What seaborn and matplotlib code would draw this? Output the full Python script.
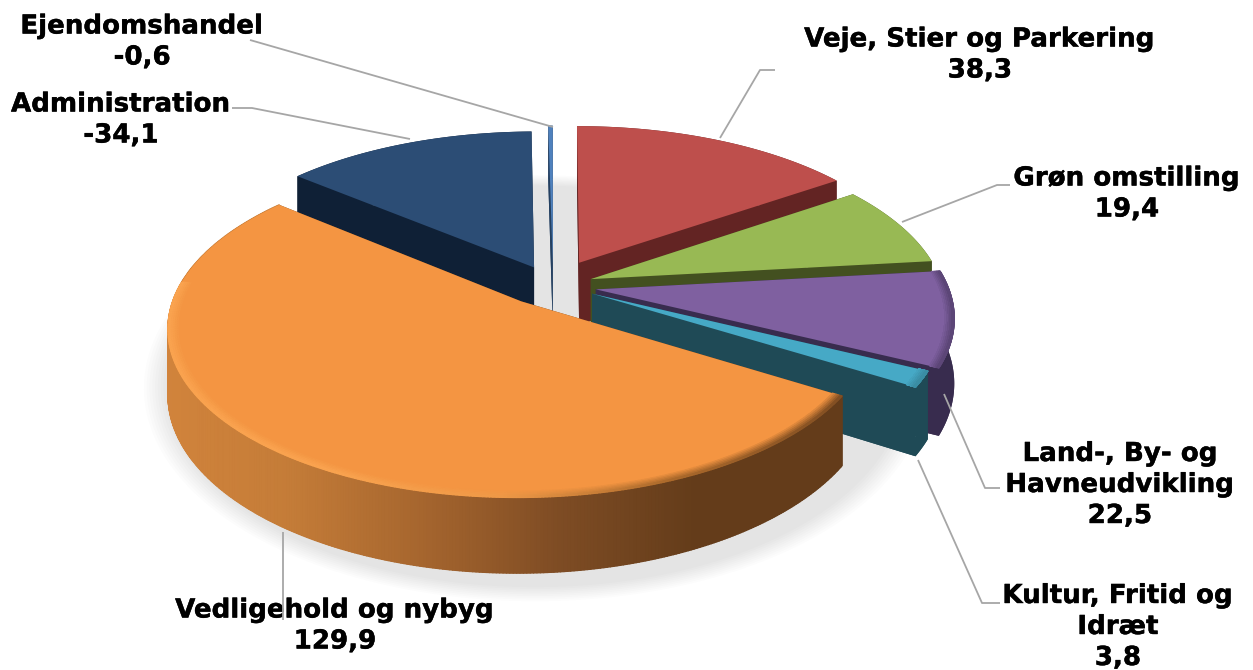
import numpy as np
import matplotlib
matplotlib.use("Agg")
import matplotlib.pyplot as plt
import matplotlib.patheffects as pe
import seaborn as sns
from matplotlib.collections import PolyCollection
from matplotlib.colors import LinearSegmentedColormap, to_rgb

names = ["Veje, Stier og Parkering", "Grøn omstilling", "Land-, By- og\nHavneudvikling",
         "Kultur, Fritid og\nIdræt", "Vedligehold og nybyg", "Administration", "Ejendomshandel"]
values = [38.3, 19.4, 22.5, 3.8, 129.9, -34.1, -0.6]
top_colors = ["#BE4F4C", "#98B954", "#7F60A0", "#46A9C6", "#F49542", "#2C4D75", "#4F81BD"]
side_colors = ["#632423", "#435020", "#382C4E", "#1F4A56", "#6A401C", "#0F2036", "#244061"]
nudge_x = [2, -3, 0, 0, -19, -12, -8]
nudge_y = [-2, 4, 4, 2, 3, 3, 1]
radius = [0.985, 1.0, 1.0, 0.975, 0.975, 0.98, 1.0]

# scene: flat pie seen in perspective
CX, CY = 561, 282
RX, RY = 352, 165
EX, EY = 0.10, 0.12
PERSP = 0.156
DEPTH = 63

sizes = np.abs(values)
ends = np.cumsum(sizes) / sizes.sum() * 2 * np.pi
starts = np.r_[0, ends[:-1]]
mids = (starts + ends) / 2


def project(i, theta, r, z=0.0):
    x = radius[i] * r * np.sin(theta) + EX * np.sin(mids[i])
    y = radius[i] * r * np.cos(theta) + EY * np.cos(mids[i])
    w = 1 + PERSP * y
    return CX + nudge_x[i] + RX * x / w, CY + nudge_y[i] - RY * y / w + DEPTH * z / w


def mix(a, b, t):
    a, b = np.array(to_rgb(a)), np.array(to_rgb(b))
    return a + (b - a) * t


def arc_band(ax, i, r0, z0, r1, z1, colors, zorder, front_only=False):
    theta = np.linspace(starts[i], ends[i], 400)
    if front_only:
        theta = theta[np.cos(theta) < 0.12]
    x0, y0 = project(i, theta, r0, z0)
    x1, y1 = project(i, theta, r1, z1)
    polys = [[(x0[k], y0[k]), (x0[k + 1], y0[k + 1]), (x1[k + 1], y1[k + 1]), (x1[k], y1[k])]
             for k in range(len(theta) - 1)]
    ax.add_collection(PolyCollection(polys, facecolors=colors((x0[:-1] + x0[1:]) / 2),
                                     edgecolors="face", linewidths=0.9, zorder=zorder))


sns.set_theme(style="white")
plt.rcParams["font.family"] = ["DejaVu Sans"]

fig = plt.figure(figsize=(12.53, 6.70), dpi=100)
ax = fig.add_axes([0, 0, 1, 1])
ax.set_xlim(0, 1253)
ax.set_ylim(670, 0)
ax.axis("off")

# soft shadow under the whole pie
full = np.linspace(0, 2 * np.pi, 240)
for grow in np.linspace(0.99, 1.05, 9):
    w = 1 + PERSP * np.cos(full)
    ax.fill(535 + grow * 368 * np.sin(full) / w,
            355 - grow * 198 * np.cos(full) / w,
            color="black", alpha=0.012, lw=0, zorder=1)

# back to front
order = [5, 6, 0, 1, 2, 3, 4]
orange_side = LinearSegmentedColormap.from_list(
    "orange_side", ["#D2843C", "#C47C38", "#A5652E", "#7E4C24", "#643C1A"])
for z, i in enumerate(order):
    base = 2 + z * 2
    theta = np.linspace(starts[i], ends[i], 160)
    ax_x, ax_y = project(i, theta, 1.0, 1.0)
    ox, oy = project(i, 0.0, 0.0, 1.0)
    tx, ty = project(i, 0.0, 0.0, 0.0)
    sx, sy = project(i, theta, 1.0, 0.0)
    # bottom face + the two cut faces
    ax.fill(np.r_[ox, ax_x], np.r_[oy, ax_y], color=side_colors[i], lw=0, zorder=base)
    ax.fill([tx, sx[0], ax_x[0], ox], [ty, sy[0], ax_y[0], oy], color=side_colors[i], lw=0, zorder=base)
    ax.fill([tx, sx[-1], ax_x[-1], ox], [ty, sy[-1], ax_y[-1], oy], color=side_colors[i], lw=0, zorder=base)
    if i == 4:
        arc_band(ax, i, 1.0, 0.0, 1.0, 1.0,
                 lambda px: orange_side(np.clip((px - 155) / 540, 0, 1)), base)
    else:
        ax.fill(np.r_[sx, ax_x[::-1]], np.r_[sy, ax_y[::-1]], color=side_colors[i], lw=0, zorder=base)
    # top face
    ax.fill(np.r_[tx, sx], np.r_[ty, sy], color=top_colors[i], lw=0, zorder=base + 1)

# rounded rim on the front slices, blended in a few steps
rim_orange = LinearSegmentedColormap.from_list(
    "rim_orange", ["#FBA652", "#FBA652", "#EE9A48", "#9C6026", "#6A401C"])
steps = np.linspace(0, 1, 6)
for s, t in enumerate(steps[:-1]):
    top = np.array(to_rgb(top_colors[4]))
    arc_band(ax, 4, 0.972 + 0.028 * t, 0.0, 0.972 + 0.028 * steps[s + 1], 0.0,
             lambda px, t=t: np.c_[top + (rim_orange(np.clip((px - 155) / 690, 0, 1))[:, :3] - top) * (t + 0.2) / 1.2,
                                   np.ones(len(px))], 20, front_only=True)
    for i, amount in [(2, 0.5), (3, 0.3)]:
        col = mix(top_colors[i], side_colors[i], amount * (t + 0.2))
        arc_band(ax, i, 0.975 + 0.025 * t, 0.0, 0.975 + 0.025 * steps[s + 1], 0.0,
                 lambda px, col=col: np.tile(np.r_[col, 1.0], (len(px), 1)), 8 + 2 * i, front_only=True)

# leader lines
leaders = [
    [(775, 70), (760, 70), (720, 138)],
    [(1010, 185), (997, 185), (902, 222)],
    [(1000, 488), (985, 488), (944, 394)],
    [(1000, 603), (982, 603), (918, 460)],
    [(283, 532), (283, 620)],
    [(232, 108), (252, 108), (410, 139)],
    [(250, 40), (553, 127)],
]
for pts in leaders:
    xs, ys = zip(*pts)
    ax.plot(xs, ys, color="#A6A6A6", lw=1.3, zorder=31, solid_capstyle="butt")

# labels
label_pos = [(980, 55), (1127, 194), (1120, 485), (1118, 627), (335, 626), (121, 120), (142, 42)]
for name, val, (lx, ly) in zip(names, values, label_pos):
    ax.text(lx, ly, f"{name}\n{val:.1f}".replace(".", ","), ha="center", va="center",
            fontsize=18.8, fontweight="bold", color="black", linespacing=1.25, zorder=30,
            path_effects=[pe.withStroke(linewidth=0.3, foreground="black")])

fig.savefig("out.png", dpi=100, facecolor="white")
plt.close(fig)
